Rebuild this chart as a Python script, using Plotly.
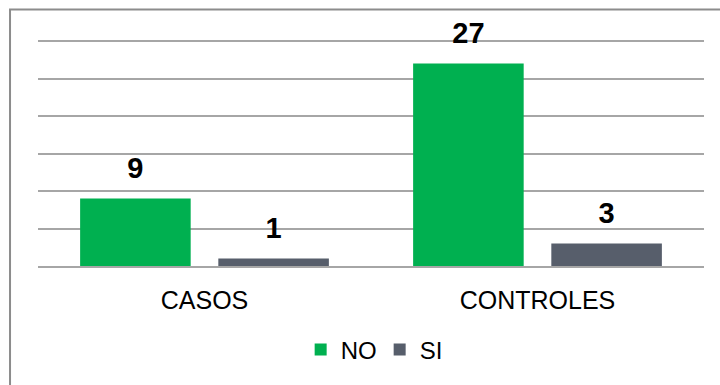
import plotly.graph_objects as go

# Data
categories = ["CASOS", "CONTROLES"]
no_values = [9, 27]
si_values = [1, 3]
series_names = ["NO", "SI"]
series_colors = ["#00B050", "#575E6B"]

fig = go.Figure()

for name, vals, color in zip(series_names, [no_values, si_values], series_colors):
    fig.add_trace(go.Bar(
        x=categories, y=vals, name=name,
        marker=dict(color=color, line=dict(width=0)),
        offsetgroup=name,
    ))

# Value labels above each bar, grouped like the bars
for name, vals in zip(series_names, [no_values, si_values]):
    fig.add_trace(go.Scatter(
        x=categories, y=vals, mode="markers+text",
        text=[str(v) for v in vals], textposition="top center",
        textfont=dict(family="Liberation Sans, Arial", size=29, color="#000000", weight="bold"),
        marker=dict(size=20, color="rgba(0,0,0,0)"),
        offsetgroup=name, showlegend=False, hoverinfo="skip", cliponaxis=False,
    ))

fig.update_layout(
    width=720, height=385,
    margin=dict(l=38, r=16, t=39, b=117),
    paper_bgcolor="#FFFFFF", plot_bgcolor="#FFFFFF",
    barmode="group", bargap=0.17, bargroupgap=0.2,
    scattermode="group", scattergap=0.17,
    font=dict(family="Liberation Sans, Arial", color="#000000"),
    showlegend=True,
    legend=dict(
        orientation="h", x=0.513, xanchor="center", y=-0.37, yanchor="middle",
        font=dict(size=24, color="#000000"), traceorder="normal",
        itemwidth=30, entrywidth=34, entrywidthmode="pixels",
    ),
    xaxis=dict(
        showgrid=False, showline=True, linecolor="#A6A6A6", linewidth=1.5,
        ticks="", tickfont=dict(size=25, color="#000000"), ticklabelstandoff=11,
    ),
    yaxis=dict(
        range=[0, 30.27], tickvals=[5, 10, 15, 20, 25, 30], showgrid=True,
        gridcolor="#A6A6A6", gridwidth=1.5,
        zeroline=False, showticklabels=False, ticks="", showline=False,
    ),
    shapes=[dict(
        type="rect", xref="paper", yref="paper",
        x0=-0.042, x1=1.05, y0=-0.6, y1=1.13,
        line=dict(color="#8C8C8C", width=2), fillcolor="rgba(0,0,0,0)", layer="above",
    )],
)

fig.write_html("out.html")
